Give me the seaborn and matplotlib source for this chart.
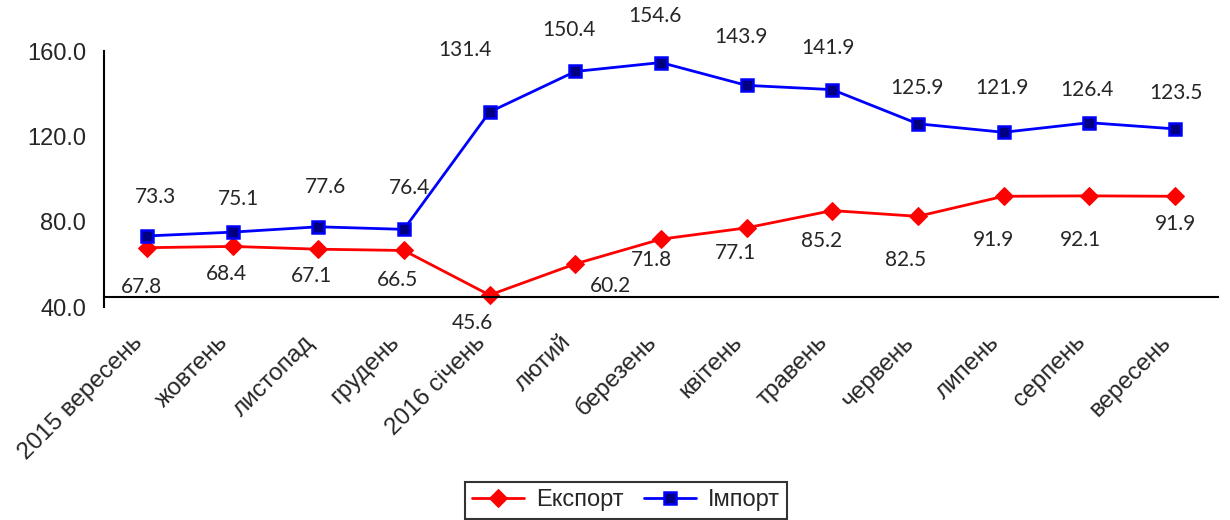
import pandas as pd
import seaborn as sns
import matplotlib.pyplot as plt
from matplotlib import font_manager as fm
from matplotlib.ticker import FixedLocator

# data
months = ["2015 вересень", "жовтень", "листопад", "грудень", "2016 січень",
          "лютий", "березень", "квітень", "травень", "червень", "липень",
          "серпень", "вересень"]
export_vals = [67.8, 68.4, 67.1, 66.5, 45.6, 60.2, 71.8, 77.1, 85.2, 82.5, 91.9, 92.1, 91.9]
import_vals = [73.3, 75.1, 77.6, 76.4, 131.4, 150.4, 154.6, 143.9, 141.9, 125.9, 121.9, 126.4, 123.5]

# label offsets in pixels (dx, dy) - where the numbers sit around the points
exp_off = [(-5, -39), (-6, -28), (-7, -27), (-6, -30), (-17, -28), (35, -22), (-9, -21),
           (-11, -25), (-11, -30), (-12, -44), (-10, -44), (-9, -44), (1, -28)]
imp_off = [(9, 39), (6, 33), (7, 40), (6, 41), (-25, 62), (-6, 41), (-6, 47),
           (-6, 48), (-4, 42), (-1, 36), (-2, 44), (-2, 33), (1, 36)]

sns.set_style("white")
plt.rcParams["font.family"] = ["Liberation Sans", "DejaVu Sans"]

# pick the regular (not narrow) Liberation Sans file explicitly
reg = [f.fname for f in fm.fontManager.ttflist
       if f.name == "Liberation Sans" and f.style == "normal"
       and f.weight in (400, "normal", "regular") and "Narrow" not in f.fname]
def fp(size):
    if reg:
        return fm.FontProperties(fname=reg[0], size=size)
    return fm.FontProperties(family="Liberation Sans", size=size)

df = pd.DataFrame({"month": months, "Експорт": export_vals, "Імпорт": import_vals})
x = list(range(len(months)))

fig = plt.figure(figsize=(12.3, 5.2), dpi=100)
ax = fig.add_axes([0.0846, 0.4096, 0.9054, 0.4923])

sns.lineplot(x=x, y=df["Експорт"], ax=ax, color="#FF0000", lw=2, marker="D",
             markersize=9, markeredgecolor="#FF0000", markerfacecolor="#FF0000",
             label="Експорт")
sns.lineplot(x=x, y=df["Імпорт"], ax=ax, color="#0000FF", lw=2, marker="s",
             markersize=8, markeredgecolor="#0000FF", markerfacecolor="#000080",
             markeredgewidth=1.8, label="Імпорт")

for i in x:
    ax.annotate(f"{export_vals[i]:.1f}", (i, export_vals[i]), xytext=exp_off[i],
                textcoords="offset pixels", ha="center", va="center",
                fontsize=15, family="Lato")
    ax.annotate(f"{import_vals[i]:.1f}", (i, import_vals[i]), xytext=imp_off[i],
                textcoords="offset pixels", ha="center", va="center",
                fontsize=15, family="Lato")

# spine position first - it resets the tick objects
for s in ["top", "right"]:
    ax.spines[s].set_visible(False)
for s in ["left", "bottom"]:
    ax.spines[s].set_color("black")
    ax.spines[s].set_linewidth(1.5)
ax.spines["bottom"].set_position(("data", 44.8))

ax.set_xlim(-0.5, len(months) - 0.5)
ax.set_ylim(40, 160)
ax.set_yticks([40, 80, 120, 160])
ax.set_yticklabels([f"{v:.1f}" for v in [40, 80, 120, 160]], fontproperties=fp(17))
ax.set_xticks(x)
ax.set_xticklabels(months, rotation=45, ha="right", va="bottom", rotation_mode="anchor",
                   fontproperties=fp(17.5))
ax.xaxis.set_minor_locator(FixedLocator([i - 0.5 for i in range(len(months) + 1)]))
ax.tick_params(axis="x", which="major", length=0, pad=36)
ax.tick_params(axis="x", which="minor", length=6, width=1.5, color="black", direction="out")
ax.tick_params(axis="y", length=6, width=1.5, color="black", direction="out", pad=7)
ax.set_xlabel("")
ax.set_ylabel("")

handles, labels = ax.get_legend_handles_labels()
ax.get_legend().remove()
leg = fig.legend(handles, labels, loc="upper center", bbox_to_anchor=(0.509, 0.095),
                 ncol=2, prop=fp(17), frameon=True,
                 fancybox=False, shadow=False, handlelength=2.2, columnspacing=0.9,
                 borderpad=0.3, handletextpad=0.5)
leg.get_frame().set_edgecolor("black")
leg.get_frame().set_linewidth(1.5)

plt.savefig("out.png", dpi=100)
